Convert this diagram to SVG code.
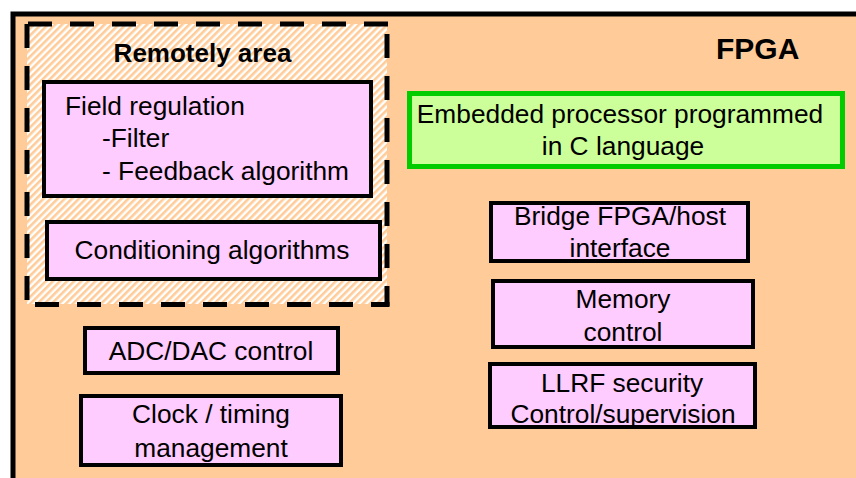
<svg xmlns="http://www.w3.org/2000/svg" width="856" height="478" viewBox="0 0 856 478">
<defs>
<pattern id="hatch" patternUnits="userSpaceOnUse" width="5" height="5" patternTransform="rotate(45)">
<rect x="0" y="0" width="5" height="5" fill="#ffffff"/>
<rect x="0" y="0" width="2.6" height="5" fill="#ffcc99"/>
</pattern>
<style>
text{font-family:"Liberation Sans",Arial,sans-serif;font-size:26.3px;fill:#000}
.b{font-weight:bold}
.box{fill:#ffccff;stroke:#000;stroke-width:4}
.dash{stroke:#000;stroke-width:5;fill:none;stroke-dasharray:24 18}
.m{text-anchor:middle}
</style>
</defs>
<rect width="856" height="478" fill="#ffffff"/>
<g id="fpga">
<rect x="13" y="14" width="900" height="500" fill="#ffcc99" stroke="#000" stroke-width="5"/>
<text class="b" x="716" y="59" style="font-size:30px">FPGA</text>
</g>
<g id="remotely-area">
<rect x="27" y="24" width="360" height="280" fill="url(#hatch)"/>
<line class="dash" x1="27" y1="24" x2="389" y2="24" style="stroke-dashoffset:-1"/>
<line class="dash" x1="27" y1="24" x2="27" y2="306"/>
<line class="dash" x1="387" y1="24" x2="387" y2="306" style="stroke-dashoffset:-10"/>
<line class="dash" x1="35" y1="304.5" x2="389.5" y2="304.5"/>
<text class="b m" x="202.5" y="62" style="font-size:26px">Remotely area</text>
</g>
<g id="field-regulation">
<rect class="box" x="44" y="82" width="327" height="114"/>
<text x="65" y="115">Field regulation</text>
<text x="102" y="147">-Filter</text>
<text x="102" y="180">- Feedback algorithm</text>
</g>
<g id="conditioning">
<rect class="box" x="47" y="222" width="333" height="57"/>
<text class="m" x="212" y="259">Conditioning algorithms</text>
</g>
<g id="adc-dac">
<rect class="box" x="85" y="328" width="253" height="45"/>
<text class="m" x="211" y="360">ADC/DAC control</text>
</g>
<g id="clock">
<rect class="box" x="81" y="396" width="260" height="69"/>
<text class="m" x="211" y="423">Clock / timing</text>
<text class="m" x="211" y="457">management</text>
</g>
<g id="embedded-processor">
<rect x="409.5" y="93.5" width="433" height="73" fill="#ccff99" stroke="#00cc00" stroke-width="5"/>
<text class="m" x="620" y="123">Embedded processor programmed</text>
<text class="m" x="623" y="155">in C language</text>
</g>
<g id="bridge">
<rect class="box" x="491" y="203" width="257" height="58"/>
<text class="m" x="620" y="225">Bridge FPGA/host</text>
<text class="m" x="620" y="257">interface</text>
</g>
<g id="memory">
<rect class="box" x="493" y="281" width="260" height="66"/>
<text class="m" x="623" y="308">Memory</text>
<text class="m" x="623" y="341">control</text>
</g>
<g id="llrf">
<rect class="box" x="490" y="364" width="265" height="63"/>
<text class="m" x="622" y="392">LLRF security</text>
<text class="m" x="623" y="423">Control/supervision</text>
</g>
<g id="connectors"></g>
</svg>
